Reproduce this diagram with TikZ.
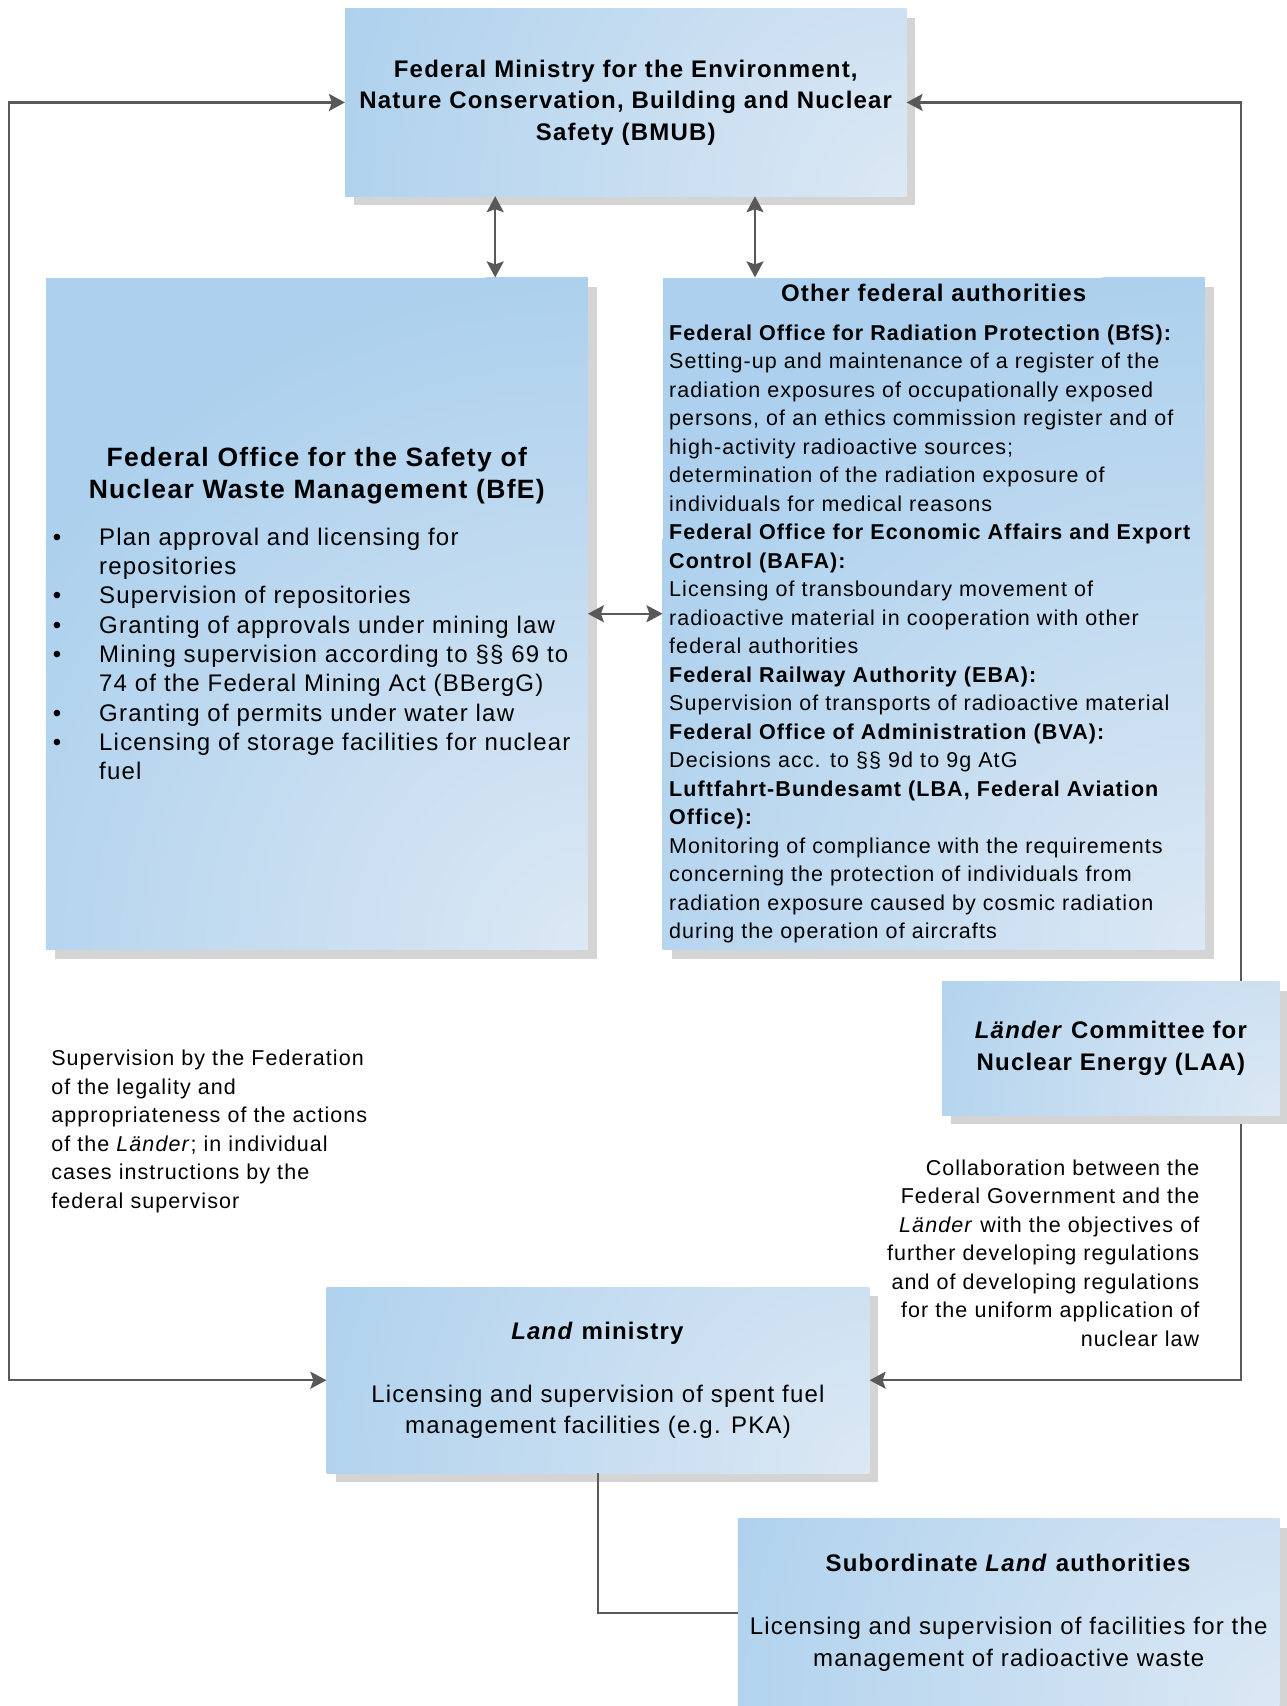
\documentclass[tikz,border=0pt]{standalone}
\usepackage{fontspec}
\setmainfont[LetterSpace=5]{Liberation Sans}
\usetikzlibrary{arrows.meta,shadows,calc}
\definecolor{boxdark}{RGB}{172,208,237}
\definecolor{boxlight}{RGB}{220,232,244}
\definecolor{shadowgray}{RGB}{212,212,212}
\definecolor{linegray}{RGB}{89,89,89}
\newcommand{\bigfont}{\fontsize{24}{31.5}\selectfont}
\newcommand{\smallfont}{\fontsize{21.5}{28.5}\selectfont}
\newcommand{\bfeline}[2]{\makebox[53.3pt][l]{\hspace{7pt}#1}\mbox{#2}}
\begin{document}
\begin{tikzpicture}[x=1pt,y=-1pt,
  box/.style={rectangle, fill=boxdark, inner sep=0pt, anchor=north west, text=black,
    drop shadow={shadow xshift=9pt, shadow yshift=-9pt, fill=shadowgray, opacity=1},
    path picture={\shade[inner color=boxlight, outer color=boxdark] (path picture bounding box.south east) circle (#1);}},
  conn/.style={draw=linegray, line width=2.2pt},
  biarrow/.style={{Stealth[length=16pt,width=17pt,inset=3pt]}-{Stealth[length=16pt,width=17pt,inset=3pt]}},
  note/.style={inner sep=0pt, font=\smallfont}]
\useasboundingbox (0,0) rectangle (1287,1706);
\fill[white] (0,0) rectangle (1287,1706);

\node[box=620pt, minimum width=561.3pt, minimum height=187.1pt, align=center, font=\bfseries\bigfont] (bmub) at (344.9,8.7)
  {Federal Ministry for the Environment,\\Nature Conservation, Building and Nuclear\\Safety (BMUB)};

\node[box=680pt, minimum width=541.8pt, minimum height=672.3pt] (bfe) at (45.7,277.4) {\begin{minipage}{541.8pt}
\centering\bfseries\fontsize{26.5}{32}\selectfont Federal Office for the Safety of\\Nuclear Waste Management (BfE)\par
\vspace{17.2pt}
\raggedright\mdseries\fontsize{24}{29.3}\selectfont
\bfeline{\textbullet}{Plan approval and licensing for}\\
\bfeline{}{repositories}\\
\bfeline{\textbullet}{Supervision of repositories}\\
\bfeline{\textbullet}{Granting of approvals under mining law}\\
\bfeline{\textbullet}{Mining supervision according to §§ 69 to}\\
\bfeline{}{74 of the Federal Mining Act (BBergG)}\\
\bfeline{\textbullet}{Granting of permits under water law}\\
\bfeline{\textbullet}{Licensing of storage facilities for nuclear}\\
\bfeline{}{fuel}
\end{minipage}};

\node[box=680pt, minimum width=541.8pt, minimum height=672.3pt] (other) at (662.5,277.4) {\begin{minipage}{541.8pt}
\centering\bfseries\fontsize{24}{28.5}\selectfont Other federal authorities\par
\vspace{9.6pt}
\raggedright\leftskip=6.5pt\mdseries\smallfont
\mbox{\bfseries Federal Office for Radiation Protection (BfS):}\\
\mbox{Setting-up and maintenance of a register of the}\\
\mbox{radiation exposures of occupationally exposed}\\
\mbox{persons, of an ethics commission register and of}\\
\mbox{high-activity radioactive sources;}\\
\mbox{determination of the radiation exposure of}\\
\mbox{individuals for medical reasons}\\
\mbox{\bfseries Federal Office for Economic Affairs and Export}\\
\mbox{\bfseries Control (BAFA):}\\
\mbox{Licensing of transboundary movement of}\\
\mbox{radioactive material in cooperation with other}\\
\mbox{federal authorities}\\
\mbox{\bfseries Federal Railway Authority (EBA):}\\
\mbox{Supervision of transports of radioactive material}\\
\mbox{\bfseries Federal Office of Administration (BVA):}\\
\mbox{Decisions acc. to §§ 9d to 9g AtG}\\
\mbox{\bfseries Luftfahrt-Bundesamt (LBA, Federal Aviation}\\
\mbox{\bfseries Office):}\\
\mbox{Monitoring of compliance with the requirements}\\
\mbox{concerning the protection of individuals from}\\
\mbox{radiation exposure caused by cosmic radiation}\\
\mbox{during the operation of aircrafts}
\end{minipage}};

\node[box=620pt, minimum width=542.8pt, minimum height=186pt, align=center, font=\bigfont] (land) at (326.4,1287)
  {\textbf{\textit{Land} ministry}\\[31.5pt]Licensing and supervision of spent fuel\\management facilities (e.g. PKA)};

\node[box=620pt, minimum width=541.8pt, minimum height=188pt, align=center, font=\bigfont] (sub) at (737.6,1518.7)
  {\textbf{Subordinate \textit{Land} authorities}\\[31.5pt]Licensing and supervision of facilities for the\\management of radioactive waste};

\node[note, anchor=north west, align=left] (fednote) at (51.1,1050)
  {Supervision by the Federation\\of the legality and\\appropriateness of the actions\\of the \textit{Länder}; in individual\\cases instructions by the\\federal supervisor};

\node[note, anchor=north east, align=right] (laanote) at (1199.5,1159.5)
  {Collaboration between the\\Federal Government and the\\\textit{Länder} with the objectives of\\further developing regulations\\and of developing regulations\\for the uniform application of\\nuclear law};

\coordinate (lft) at (8.7,700);
\coordinate (rgt) at (1241.3,700);
\coordinate (va) at (495.2,0);
\coordinate (vb) at (755,0);
\draw[conn,biarrow] (bmub.west) -| (lft) |- (land.west);
\draw[conn,biarrow] (bmub.east) -| (rgt) |- (land.east);
\draw[conn,biarrow] (bmub.south -| va) -- (bfe.north -| va);
\draw[conn,biarrow] (bmub.south -| vb) -- (other.north -| vb);
\draw[conn,biarrow] (bfe.east) -- (other.west);
\draw[conn] (land.south) |- (sub.west);

\node[box=420pt, minimum width=337.4pt, minimum height=133.8pt, align=center, font=\bfseries\bigfont] (laa) at (942,981.3)
  {\textit{Länder} Committee for\\Nuclear Energy (LAA)};
\end{tikzpicture}
\end{document}
